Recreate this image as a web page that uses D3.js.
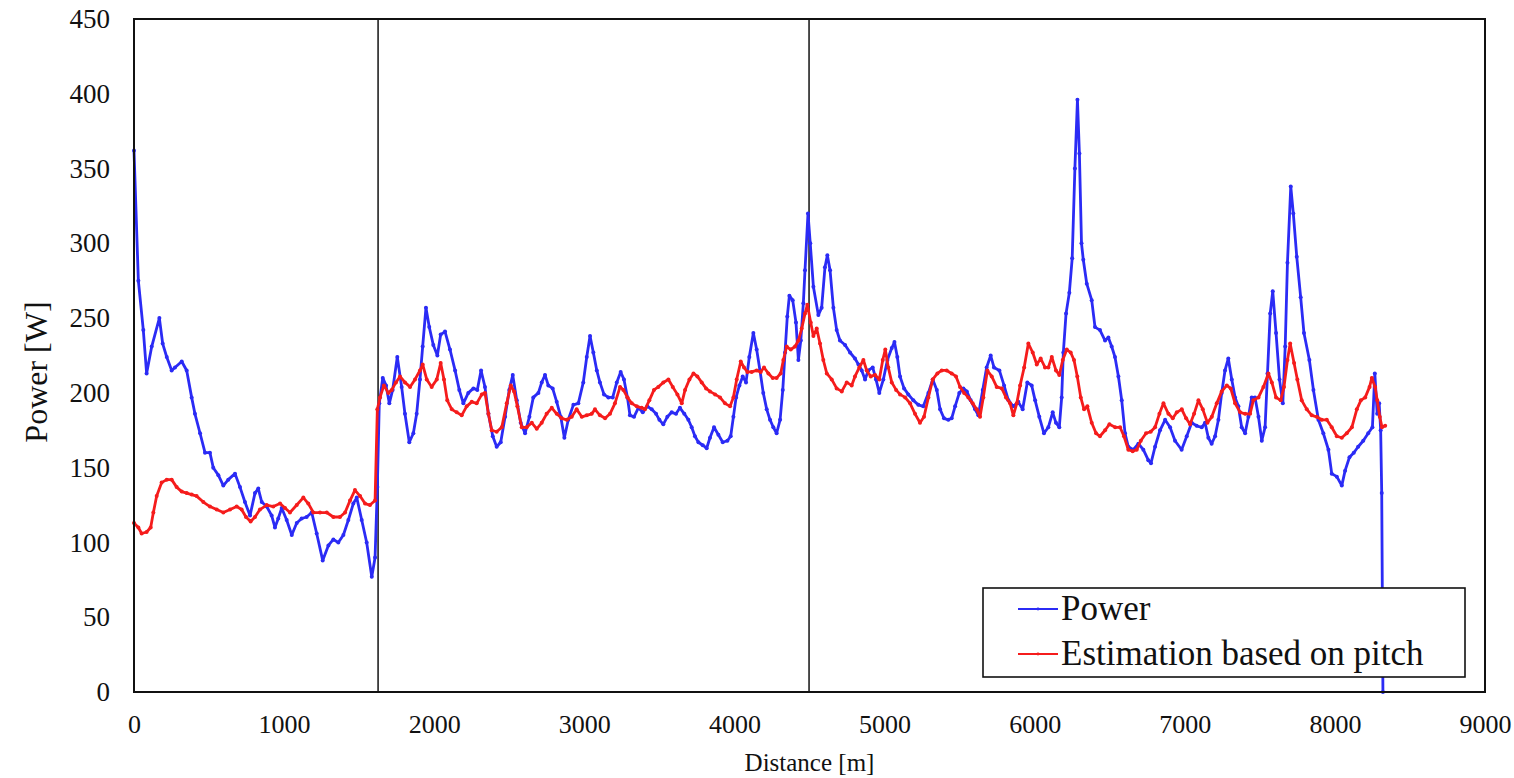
<!DOCTYPE html>
<html>
<head>
<meta charset="utf-8">
<script src="https://cdn.jsdelivr.net/npm/d3@7"></script>
<style>
  body { margin: 0; background: #fff; }
  svg { display: block; font-family: "Liberation Serif", "Times New Roman", serif; }
</style>
</head>
<body>
<svg id="chart" width="1514" height="778"></svg>
<script>
// ---- data ----
var yTicks = [0, 50, 100, 150, 200, 250, 300, 350, 400, 450];
var xTicks = [0, 1000, 2000, 3000, 4000, 5000, 6000, 7000, 8000, 9000];
var markerDist = [1626, 4497];   // vertical section lines
var seriesNames = ["Power", "Estimation based on pitch"];

var powerDist = [0,29,62,84,118,169,191,218,251,273,318,351,384,406,440,473,506,528,562,595,628,673,706,739,773,806,828,851,884,917,939,961,984,1017,1051,1084,1117,1150,1184,1217,1257,1295,1328,1361,1395,1428,1461,1484,1517,1550,1584,1606,1621,1634,1657,1679,1701,1723,1754,1783,1805,1834,1861,1883,1905,1923,1945,1967,1994,2021,2043,2072,2105,2139,2167,2194,2227,2261,2287,2312,2338,2361,2390,2416,2443,2472,2500,2523,2550,2576,2605,2634,2660,2694,2716,2738,2760,2789,2816,2843,2867,2893,2927,2960,2993,3016,3038,3060,3083,3104,3131,3160,3189,3216,3242,3264,3287,3304,3331,3360,3389,3420,3449,3478,3500,3526,3553,3582,3611,3637,3666,3693,3715,3737,3760,3789,3815,3837,3864,3893,3922,3953,3975,3993,4011,4033,4055,4077,4099,4126,4148,4170,4192,4215,4237,4259,4281,4304,4322,4337,4352,4366,4388,4410,4426,4442,4459,4470,4490,4505,4526,4559,4581,4603,4619,4637,4659,4681,4703,4737,4770,4803,4826,4848,4870,4892,4921,4943,4965,4992,5019,5048,5066,5085,5103,5130,5158,5192,5225,5258,5292,5321,5348,5370,5396,5425,5447,5470,5498,5525,5548,5574,5603,5625,5654,5680,5707,5729,5765,5796,5825,5858,5891,5920,5951,5980,6003,6031,6062,6091,6120,6142,6164,6180,6191,6209,6231,6250,6268,6285,6298,6312,6324,6347,6380,6402,6435,6469,6491,6513,6535,6558,6580,6602,6624,6657,6691,6724,6757,6775,6802,6835,6869,6902,6935,6979,7013,7046,7079,7113,7135,7157,7179,7202,7224,7246,7268,7290,7313,7335,7357,7379,7402,7424,7446,7468,7491,7513,7535,7551,7569,7586,7608,7631,7653,7669,7684,7706,7723,7746,7772,7794,7830,7857,7890,7923,7957,7979,8013,8046,8068,8097,8126,8155,8189,8222,8250,8266,8282,8295,8305,8312,8320];
var powerVal = [362,275,242,213,231,250,233,224,215,217,221,215,197,186,173,160,160,150,145,138,142,146,137,127,118,133,136,127,124,118,110,116,123,115,105,113,116,117,120,106,88,98,102,100,105,115,126,130,115,100,77,90,137,193,210,205,193,202,224,204,186,167,173,186,209,231,257,244,232,225,239,241,229,215,202,193,200,203,202,215,204,186,171,164,167,184,202,212,195,180,173,184,197,200,207,212,205,203,194,184,170,182,192,193,207,224,238,227,215,207,199,197,197,207,214,209,197,185,184,190,187,191,189,186,182,179,184,187,186,190,186,182,177,171,167,165,163,170,177,172,167,168,171,184,197,205,211,207,224,240,229,215,200,189,182,177,173,182,202,227,251,265,262,247,222,235,260,282,320,300,271,252,257,284,292,282,257,242,235,232,227,223,219,215,209,215,217,209,200,209,222,230,234,224,211,203,199,195,192,191,200,209,202,189,183,182,183,191,200,203,201,195,189,185,202,217,225,217,215,205,195,191,194,189,207,205,195,184,173,177,187,180,177,197,227,253,267,290,350,396,360,300,289,273,262,244,242,235,237,231,224,211,195,173,164,162,166,162,155,153,164,175,182,177,168,162,171,180,178,177,180,170,166,171,182,200,215,223,209,197,191,177,173,184,197,197,184,168,177,213,253,268,240,209,193,231,287,338,320,291,264,240,222,202,182,173,162,146,144,138,148,157,160,164,168,173,177,213,186,193,175,133,0];

var estDist = [0,29,51,84,111,129,151,184,218,251,284,318,351,384,417,462,506,551,595,640,684,717,746,777,806,839,884,928,973,1006,1039,1084,1128,1161,1195,1239,1284,1328,1372,1406,1439,1472,1506,1539,1572,1606,1621,1639,1665,1694,1717,1745,1772,1805,1839,1872,1905,1923,1950,1983,2017,2043,2065,2087,2117,2150,2183,2216,2250,2283,2317,2338,2361,2383,2416,2450,2483,2510,2532,2554,2583,2616,2650,2683,2716,2749,2783,2816,2849,2883,2916,2949,2983,3016,3049,3071,3104,3138,3171,3204,3238,3260,3287,3316,3349,3382,3404,3433,3464,3493,3526,3560,3589,3620,3649,3671,3700,3727,3753,3782,3811,3837,3871,3904,3937,3971,3993,4015,4042,4064,4086,4115,4148,4175,4197,4226,4255,4281,4308,4326,4348,4375,4404,4426,4448,4470,4486,4508,4526,4548,4570,4592,4615,4648,4681,4715,4748,4781,4803,4832,4859,4881,4908,4937,4965,4988,5005,5025,5048,5077,5103,5137,5170,5203,5236,5263,5292,5321,5352,5381,5414,5447,5476,5503,5530,5558,5587,5614,5636,5658,5685,5714,5747,5781,5809,5836,5858,5881,5903,5930,5958,5987,6014,6040,6069,6091,6114,6142,6164,6187,6214,6240,6262,6284,6307,6329,6351,6380,6409,6435,6469,6498,6536,6569,6595,6624,6653,6680,6707,6742,6773,6802,6831,6858,6891,6920,6947,6980,7009,7035,7062,7091,7120,7151,7180,7213,7246,7280,7306,7335,7369,7402,7435,7457,7491,7524,7557,7580,7608,7639,7661,7684,7702,7728,7750,7779,7813,7846,7879,7912,7946,7979,8013,8046,8079,8113,8146,8173,8202,8231,8246,8268,8282,8299,8314,8335];
var estVal = [113,110,106,107,110,120,131,140,142,142,137,134,133,132,131,127,124,122,120,122,124,122,117,114,117,122,125,124,126,123,120,125,130,126,120,120,120,117,117,120,128,135,131,126,125,128,189,197,205,200,202,207,211,207,204,209,215,219,209,204,209,220,209,195,189,187,185,191,194,193,199,200,186,175,174,177,193,205,201,191,177,177,180,176,180,186,190,186,183,182,184,189,184,185,186,189,185,183,186,193,204,202,197,193,191,190,189,195,202,204,207,209,204,199,193,202,209,213,211,207,203,201,199,197,193,191,197,209,221,217,214,214,215,214,217,213,210,210,213,222,231,229,231,235,243,253,259,247,238,243,233,222,213,209,203,201,207,205,211,217,222,215,211,212,209,222,229,217,207,202,199,197,193,186,180,184,197,209,213,215,215,213,211,204,200,197,193,189,184,197,215,211,204,203,197,193,185,193,205,217,233,227,219,223,217,217,224,215,212,222,229,227,222,211,197,189,191,180,173,171,175,179,177,177,171,162,161,162,168,173,174,177,186,193,186,183,187,189,183,179,186,195,189,180,184,193,201,205,203,193,187,186,186,195,197,204,213,207,197,195,204,222,233,220,209,195,189,185,184,182,182,177,171,170,173,177,189,195,197,204,210,204,195,184,177,178];

var blue = "#2b2bf5", red = "#f51c1c";

var svg = d3.select("#chart");
var plotL = 134, plotR = 1485, plotT = 19, plotB = 692;

var x = d3.scaleLinear().domain([0, 9000]).range([plotL, plotR]);
var y = d3.scaleLinear().domain([0, 450]).range([plotB, plotT]);

// y axis labels
var yAxis = svg.append("g")
  .attr("transform", "translate(" + plotL + ",0)")
  .call(d3.axisLeft(y).tickValues(yTicks).tickFormat(d3.format("d")).tickSize(0).tickPadding(24));
yAxis.select(".domain").remove();
yAxis.selectAll("text").attr("font-size", "27px").attr("fill", "#111")
  .attr("font-family", "Liberation Serif, serif");

// x axis labels
var xAxis = svg.append("g")
  .attr("transform", "translate(0," + plotB + ")")
  .call(d3.axisBottom(x).tickValues(xTicks).tickFormat(d3.format("d")).tickSize(0).tickPadding(23));
xAxis.select(".domain").remove();
xAxis.selectAll("text").attr("font-size", "26px").attr("fill", "#111")
  .attr("font-family", "Liberation Serif, serif");

// axis titles
svg.append("text")
  .attr("x", (plotL + plotR) / 2).attr("y", 771)
  .attr("text-anchor", "middle").attr("font-size", "25px").attr("fill", "#111")
  .text("Distance [m]");
svg.append("text")
  .attr("transform", "translate(47,372) rotate(-90)")
  .attr("text-anchor", "middle").attr("font-size", "32px").attr("fill", "#111")
  .text("Power [W]");

// section lines
svg.selectAll(".sect")
  .data(markerDist)
  .enter()
  .append("line")
  .attr("class", "sect")
  .attr("x1", function(d) { return x(d); })
  .attr("x2", function(d) { return x(d); })
  .attr("y1", plotT).attr("y2", plotB)
  .attr("stroke", "#222").attr("stroke-width", 1.6);

// series
var series = [
  { name: seriesNames[0], dist: powerDist, val: powerVal, color: blue },
  { name: seriesNames[1], dist: estDist, val: estVal, color: red }
];

var line = d3.line()
  .x(function(d) { return x(d[0]); })
  .y(function(d) { return y(d[1]); });

series.forEach(function(s) {
  var pts = s.dist.map(function(d, i) { return [d, s.val[i]]; });
  var g = svg.append("g");
  g.append("path")
    .datum(pts)
    .attr("fill", "none")
    .attr("stroke", s.color)
    .attr("stroke-width", 2.8)
    .attr("stroke-linejoin", "round")
    .attr("d", line);
  g.selectAll("circle")
    .data(pts)
    .enter()
    .append("circle")
    .attr("cx", function(d) { return x(d[0]); })
    .attr("cy", function(d) { return y(d[1]); })
    .attr("r", 2)
    .attr("fill", s.color);
});

// plot frame
svg.append("rect")
  .attr("x", plotL).attr("y", plotT)
  .attr("width", plotR - plotL).attr("height", plotB - plotT)
  .attr("fill", "none").attr("stroke", "#111").attr("stroke-width", 2);

// legend
var legend = svg.append("g");
legend.append("rect")
  .attr("x", 983).attr("y", 588).attr("width", 482).attr("height", 89)
  .attr("fill", "#fff").attr("stroke", "#111").attr("stroke-width", 1.6);

series.forEach(function(s, i) {
  var ly = 609 + i * 45;
  legend.append("line")
    .attr("x1", 1018).attr("x2", 1058)
    .attr("y1", ly).attr("y2", ly)
    .attr("stroke", s.color).attr("stroke-width", 1.8);
  legend.append("circle")
    .attr("cx", 1038).attr("cy", ly).attr("r", 1.4).attr("fill", s.color);
  legend.append("text")
    .attr("x", 1061).attr("y", ly + 11)
    .attr("font-size", "35px").attr("fill", "#111")
    .text(s.name);
});
</script>
</body>
</html>
